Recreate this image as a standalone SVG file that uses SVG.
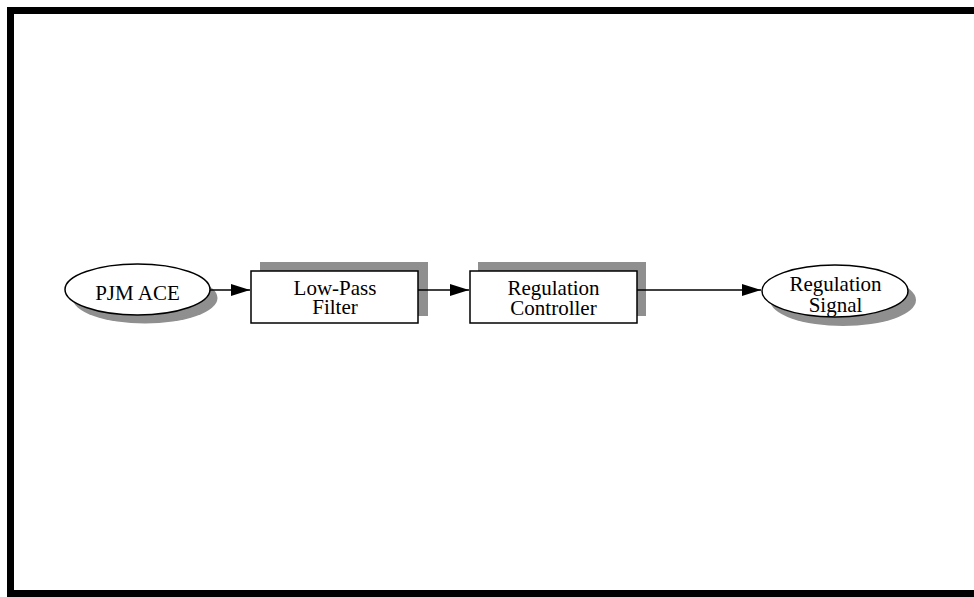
<svg xmlns="http://www.w3.org/2000/svg" width="974" height="597" viewBox="0 0 974 597">
<style>
.shape{fill:#fff;stroke:#000;stroke-width:1.5}
.shadow{fill:#8f8f8f;stroke:none}
.lbl{font-family:"Liberation Serif","Times New Roman",serif;font-size:21px;fill:#000;text-anchor:middle}
.conn{stroke:#000;stroke-width:1.3;fill:none}
</style>
<defs>
<marker id="arr" markerUnits="userSpaceOnUse" markerWidth="19" markerHeight="12" refX="19" refY="6" orient="auto">
<path d="M0,0 L19,6 L0,12 Z" fill="#000"/>
</marker>
</defs>
<rect x="10.5" y="10.5" width="980" height="583" fill="#fff" stroke="#000" stroke-width="7"/>
<g id="pjm-ace">
<ellipse class="shadow" cx="145" cy="298" rx="72.5" ry="25.5"/>
<ellipse class="shape" cx="137.5" cy="289.5" rx="72.5" ry="25.5"/>
<text class="lbl" x="137.5" y="300">PJM ACE</text>
</g>
<g id="low-pass-filter">
<rect class="shadow" x="260" y="262" width="168" height="54"/>
<rect class="shape" x="251" y="271" width="167" height="52"/>
<text class="lbl" x="335" y="295">Low-Pass</text>
<text class="lbl" x="335" y="314">Filter</text>
</g>
<g id="regulation-controller">
<rect class="shadow" x="478" y="262" width="168" height="54"/>
<rect class="shape" x="470" y="271" width="167" height="52"/>
<text class="lbl" x="553.5" y="295">Regulation</text>
<text class="lbl" x="553.5" y="315">Controller</text>
</g>
<g id="regulation-signal">
<ellipse class="shadow" cx="843" cy="300" rx="73" ry="26"/>
<ellipse class="shape" cx="835" cy="291" rx="73" ry="26"/>
<text class="lbl" x="835.5" y="291">Regulation</text>
<text class="lbl" x="835.5" y="312">Signal</text>
</g>
<g id="connectors">
<line class="conn" x1="210" y1="290" x2="250" y2="290" marker-end="url(#arr)"/>
<line class="conn" x1="418" y1="290" x2="469" y2="290" marker-end="url(#arr)"/>
<line class="conn" x1="637" y1="290" x2="761" y2="290" marker-end="url(#arr)"/>
</g>
</svg>
